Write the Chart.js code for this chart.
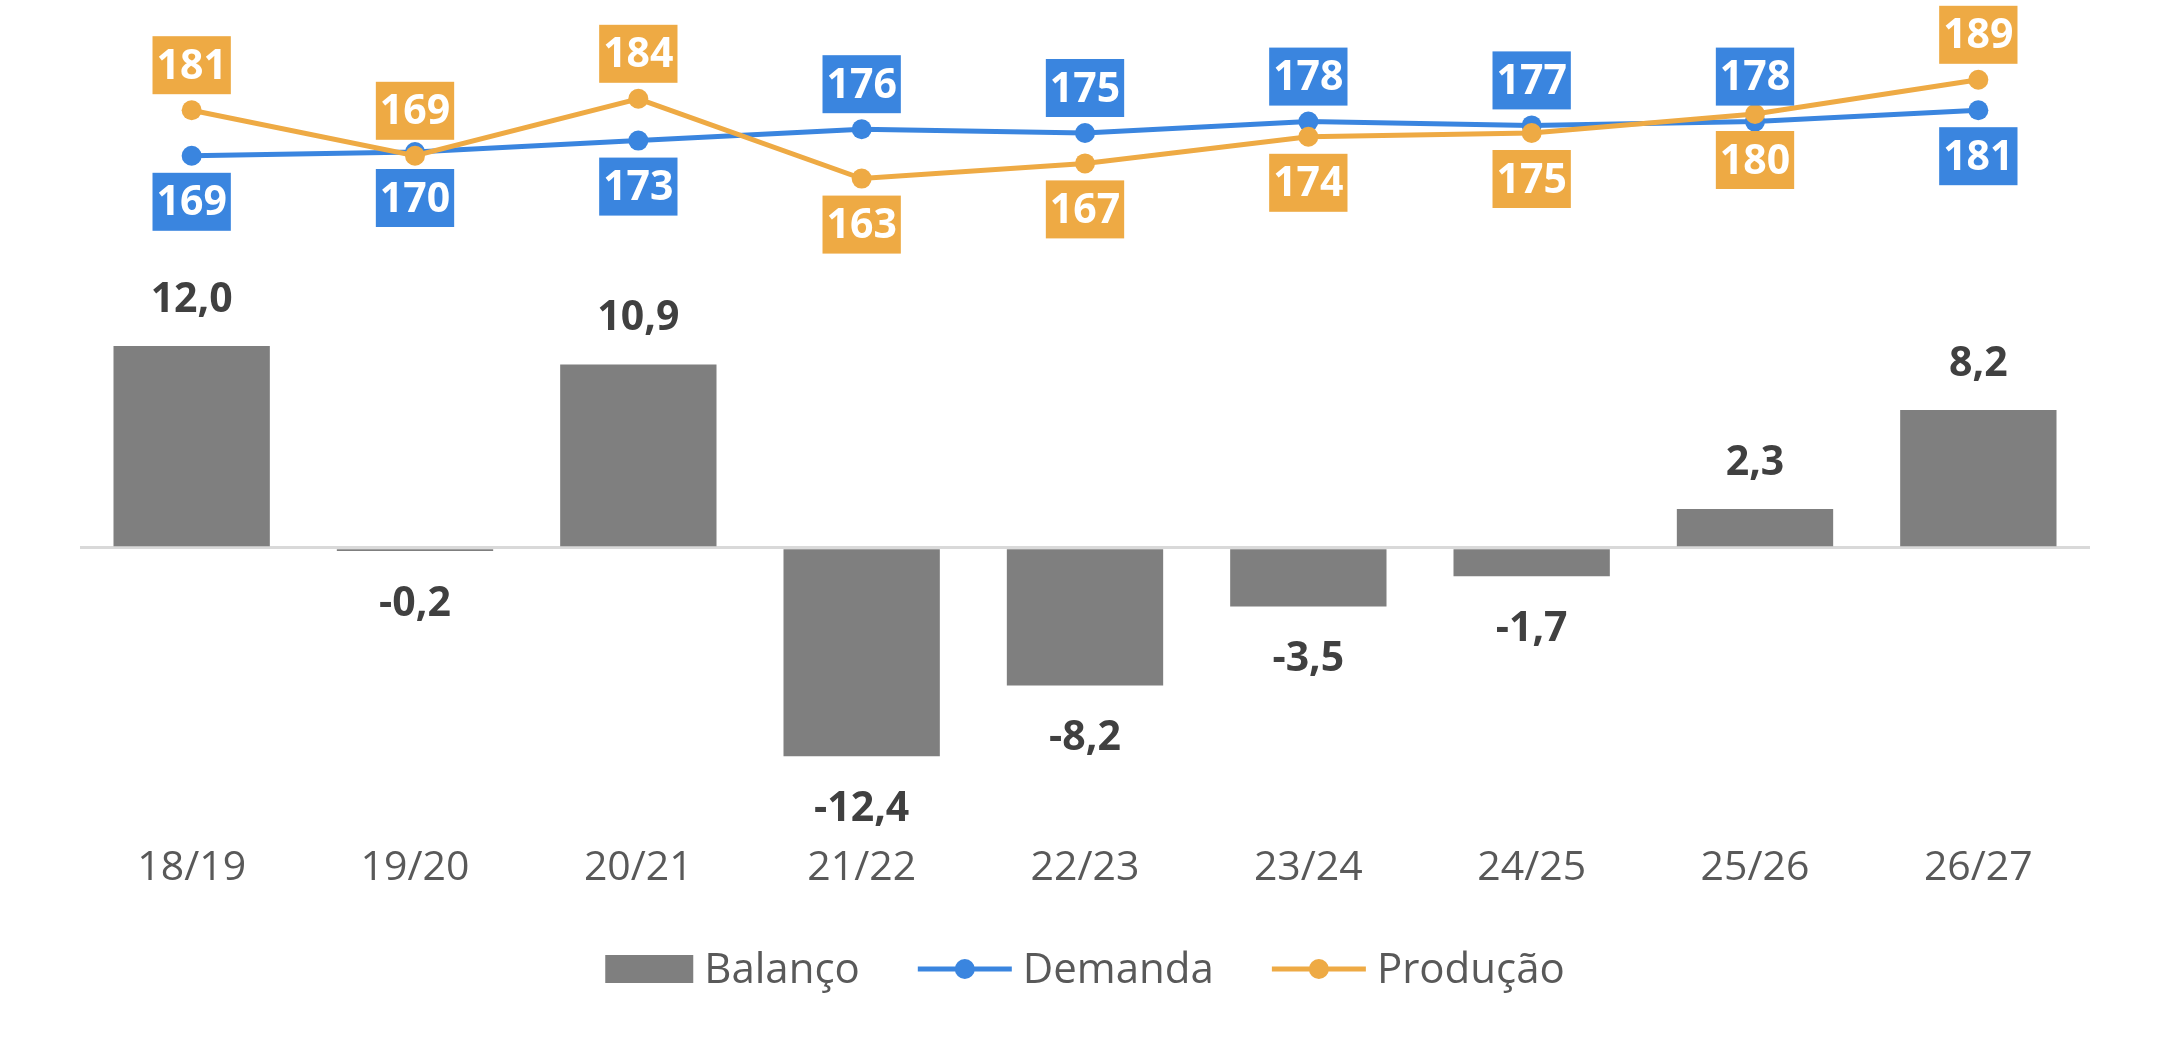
<!DOCTYPE html>
<html>
<head>
<meta charset="utf-8">
<script src="https://cdn.jsdelivr.net/npm/chart.js@4.4.1/dist/chart.umd.min.js"></script>
<style>
    html, body { margin: 0; padding: 0; background: #ffffff; }
    #wrap { width: 2170px; height: 1039px; }
</style>
</head>
<body>
<div id="wrap"><canvas id="chart" width="2170" height="1039"></canvas></div>
<script>
// Chart values
const safras = ['18/19', '19/20', '20/21', '21/22', '22/23', '23/24', '24/25', '25/26', '26/27'];
const balanco = [12.0, -0.2, 10.9, -12.4, -8.2, -3.5, -1.7, 2.3, 8.2];
const demanda = [169, 170, 173, 176, 175, 178, 177, 178, 181];
const producao = [181, 169, 184, 163, 167, 174, 175, 180, 189];

const GRAY = '#7f7f7f';
const BLUE = '#3a85df';
const ORANGE = '#eeaa44';
const FONT = '"Open Sans", "DejaVu Sans", sans-serif';

// where each line label sits relative to its point
const demandaAlign = ['bottom', 'bottom', 'bottom', 'top', 'top', 'top', 'top', 'top', 'bottom'];
const producaoAlign = ['top', 'top', 'top', 'bottom', 'bottom', 'bottom', 'bottom', 'bottom', 'top'];

const fmt = v => v.toFixed(1).replace('.', ',');

// Draws the value labels (bar numbers and the coloured boxes on the lines)
const valueLabels = {
    id: 'valueLabels',
    afterDatasetsDraw(chart) {
        const ctx = chart.ctx;
        ctx.save();
        ctx.textAlign = 'center';
        ctx.textBaseline = 'middle';
        ctx.font = 'bold 41px ' + FONT;

        chart.getDatasetMeta(0).data.forEach((bar, i) => {
            const v = balanco[i];
            const y = v >= 0 ? bar.y - 46 : bar.y + 53;
            ctx.fillStyle = '#404040';
            ctx.fillText(fmt(v), bar.x, y);
        });

        const boxes = [
            { meta: chart.getDatasetMeta(1), values: demanda, align: demandaAlign, color: BLUE },
            { meta: chart.getDatasetMeta(2), values: producao, align: producaoAlign, color: ORANGE }
        ];
        boxes.forEach(set => {
            set.meta.data.forEach((pt, i) => {
                const text = String(set.values[i]);
                const w = ctx.measureText(text).width + 8;
                const h = 58;
                const top = set.align[i] === 'top' ? pt.y - 16 - h : pt.y + 17;
                ctx.fillStyle = set.color;
                ctx.fillRect(pt.x - w / 2, top, w, h);
                ctx.fillStyle = '#ffffff';
                ctx.fillText(text, pt.x, top + h / 2 + 2);
            });
        });
        ctx.restore();
    }
};

// Legend drawn under the axis: bar swatch, then line+dot swatches
const bottomLegend = {
    id: 'bottomLegend',
    afterDraw(chart) {
        const ctx = chart.ctx;
        const items = [
            { label: 'Balanço', type: 'bar', color: GRAY },
            { label: 'Demanda', type: 'line', color: BLUE },
            { label: 'Produção', type: 'line', color: ORANGE }
        ];
        const y = 969;
        const textGap = 11;
        const itemGap = 58;
        ctx.save();
        ctx.font = '42px ' + FONT;
        ctx.textBaseline = 'middle';
        ctx.textAlign = 'left';

        let total = 0;
        items.forEach((it, i) => {
            it.sw = it.type === 'bar' ? 88 : 94;
            it.tw = ctx.measureText(it.label).width;
            total += it.sw + textGap + it.tw + (i < items.length - 1 ? itemGap : 0);
        });
        let x = chart.width / 2 - total / 2;
        items.forEach(it => {
            if (it.type === 'bar') {
                ctx.fillStyle = it.color;
                ctx.fillRect(x, y - 14, it.sw, 28);
            } else {
                ctx.strokeStyle = it.color;
                ctx.lineWidth = 5;
                ctx.beginPath();
                ctx.moveTo(x, y);
                ctx.lineTo(x + it.sw, y);
                ctx.stroke();
                ctx.fillStyle = it.color;
                ctx.beginPath();
                ctx.arc(x + it.sw / 2, y, 10, 0, Math.PI * 2);
                ctx.fill();
            }
            x += it.sw + textGap;
            ctx.fillStyle = '#595959';
            ctx.fillText(it.label, x, y + 2);
            x += it.tw + itemGap;
        });
        ctx.restore();
    }
};

new Chart(document.getElementById('chart'), {
    data: {
        labels: safras,
        datasets: [
            {
                type: 'bar',
                label: 'Balanço',
                data: balanco,
                backgroundColor: GRAY,
                barPercentage: 0.7,
                categoryPercentage: 1,
                yAxisID: 'y',
                order: 3
            },
            {
                type: 'line',
                label: 'Demanda',
                data: demanda,
                borderColor: BLUE,
                backgroundColor: BLUE,
                borderWidth: 5,
                pointRadius: 10,
                pointBorderWidth: 0,
                tension: 0,
                yAxisID: 'y2',
                order: 2
            },
            {
                type: 'line',
                label: 'Produção',
                data: producao,
                borderColor: ORANGE,
                backgroundColor: ORANGE,
                borderWidth: 5,
                pointRadius: 10,
                pointBorderWidth: 0,
                tension: 0,
                yAxisID: 'y2',
                order: 1
            }
        ]
    },
    options: {
        responsive: false,
        animation: false,
        devicePixelRatio: 1,
        layout: { padding: { left: 80, right: 80, top: 0, bottom: 118 } },
        plugins: {
            legend: { display: false },
            tooltip: { enabled: false }
        },
        scales: {
            x: {
                grid: { display: false, drawTicks: false },
                border: { display: false },
                ticks: {
                    color: '#595959',
                    font: { family: FONT, size: 41 },
                    padding: 28
                }
            },
            y: {
                min: -15.95,
                max: 32.0,
                ticks: { display: false },
                border: { display: false },
                grid: {
                    drawTicks: false,
                    lineWidth: 3,
                    color: c => (c.tick && c.tick.value === 0 ? '#d9d9d9' : 'rgba(0,0,0,0)')
                }
            },
            y2: {
                position: 'right',
                min: -4.7,
                max: 207.37,
                display: false
            }
        }
    },
    plugins: [valueLabels, bottomLegend]
});
</script>
</body>
</html>
